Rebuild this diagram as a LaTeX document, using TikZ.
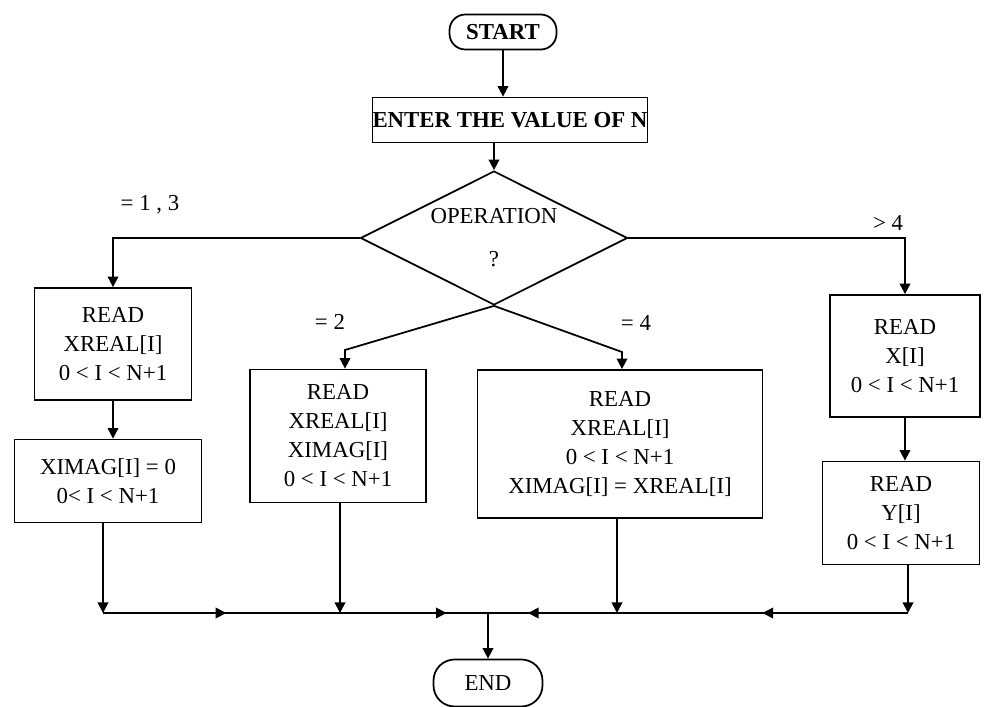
\documentclass[tikz,border=0pt]{standalone}
\usepackage{fontspec}
\setmainfont{Liberation Serif}
\usetikzlibrary{arrows.meta,shapes.geometric,decorations.markings}

\begin{document}
\begin{tikzpicture}[x=0.02cm,y=-0.02cm,
    every node/.style={font=\fontsize{13}{16.5}\selectfont},
    box/.style={draw,line width=1pt,align=center,inner sep=2pt},
    term/.style={draw,line width=1pt,inner sep=2pt},
    flow/.style={line width=1pt,-{Triangle[length=6pt,width=6pt]}},
    bus/.style={line width=1pt,postaction={decorate},
      decoration={markings,mark=at position #1 with {\arrow{Triangle[length=6pt,width=6pt]}}}}]
    \useasboundingbox (0,0) rectangle (985,707);

    \node[term,rounded corners=9pt,minimum width=2.14cm,minimum height=0.7cm] (start) at (503,32) {\textbf{START}};
    \node[box,minimum width=5.5cm,minimum height=0.9cm,inner sep=0pt] (enter) at (510,120) {\textbf{ENTER THE VALUE OF N}};
    \node[draw,line width=1pt,diamond,aspect=2,inner sep=1pt,minimum width=5.34cm,minimum height=2.68cm,align=center] (dia) at (494,238) {OPERATION\\[8pt]?};

    \node[box,minimum width=3.14cm,minimum height=2.24cm] (box1) at (113,344) {READ\\XREAL[I]\\0 < I < N+1};
    \node[box,minimum width=3.74cm,minimum height=1.66cm] (box1b) at (108,481) {XIMAG[I] = 0\\0< I < N+1};
    \node[box,minimum width=3.52cm,minimum height=2.66cm] (box2) at (338,436) {READ\\XREAL[I]\\XIMAG[I]\\0 < I < N+1};
    \node[box,minimum width=5.7cm,minimum height=2.96cm] (box4) at (620,444) {READ\\XREAL[I]\\0 < I < N+1\\XIMAG[I] = XREAL[I]};
    \node[box,minimum width=3cm,minimum height=2.44cm] (box5) at (905,356) {READ\\X[I]\\0 < I < N+1};
    \node[box,minimum width=3.14cm,minimum height=2.06cm] (box6) at (901,513) {READ\\Y[I]\\0 < I < N+1};
    \node[term,rounded corners=12pt,minimum width=2.18cm,minimum height=0.94cm] (end) at (488,683) {END};

    \node (l13) at (150,205) {= 1 , 3};
    \node (l2) at (330,322) {= 2};
    \node (l4) at (636,323) {= 4};
    \node (lgt) at (888,223) {> 4};

    \coordinate (k2) at (345,350);
    \coordinate (k4) at (622,352);
    \coordinate (b1) at (103,613);
    \coordinate (b2) at (340,613);
    \coordinate (jn) at (488,613);
    \coordinate (b4) at (617,613);
    \coordinate (b6) at (908,613);

    \draw[flow] (start) -- (start |- enter.north);
    \draw[flow] (dia.north |- enter.south) -- (dia.north);
    \draw[flow] (dia.west) -| (box1.north);
    \draw[flow] (dia.east) -| (box5.north);
    \draw[flow] (dia.south) -- (k2) -- (k2 |- box2.north);
    \draw[flow] (dia.south) -- (k4) -- (k4 |- box4.north);
    \draw[flow] (box1.south) -- (box1.south |- box1b.north);
    \draw[flow] (box5.south) -- (box5.south |- box6.north);

    \draw[flow] (b1 |- box1b.south) -- (b1);
    \draw[flow] (b2 |- box2.south) -- (b2);
    \draw[flow] (b4 |- box4.south) -- (b4);
    \draw[flow] (b6 |- box6.south) -- (b6);
    \draw[bus=0.52] (b1) -- (b2);
    \draw[bus=0.72] (b2) -- (jn);
    \draw[bus=0.69] (b4) -- (jn);
    \draw[bus=0.5] (b6) -- (b4);
    \draw[flow] (jn) -- (jn |- end.north);
\end{tikzpicture}
\end{document}
